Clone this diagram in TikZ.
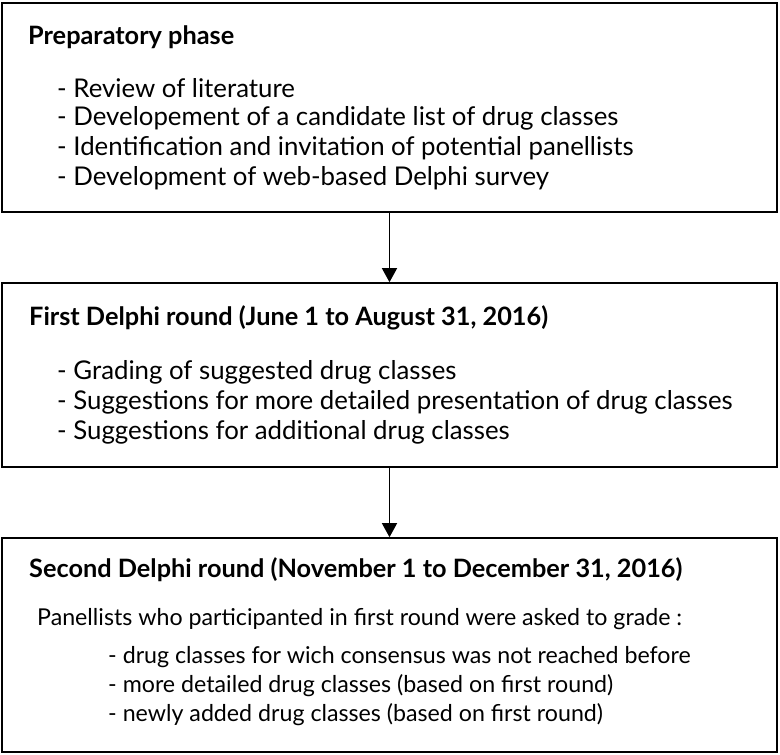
\documentclass[tikz,border=0pt]{standalone}
\usepackage{fontspec}
\setmainfont{Lato}
\usetikzlibrary{arrows.meta,positioning}

\tikzset{
  stagebox/.style={draw, line width=1.6pt, inner sep=0pt},
  title/.style={anchor=west, inner sep=0pt, font=\fontsize{25.3}{29}\selectfont\bfseries},
  item/.style={anchor=west, inner sep=0pt, font=\fontsize{25.8}{30}\selectfont},
  subitem/.style={anchor=west, inner sep=0pt, font=\fontsize{23.2}{28}\selectfont},
  arr/.style={line width=1.4pt, -{Triangle[width=15pt,length=14pt]}}
}

\begin{document}
\begin{tikzpicture}[x=1pt, y=-1pt]
        \useasboundingbox (0,0) rectangle (780,755);
        % boxes
        \node[stagebox, minimum width=775pt, minimum height=209pt] (prep) at (389.5,107.5) {};
        \node[stagebox, minimum width=775pt, minimum height=184pt] (first) at (389.5,375) {};
        \node[stagebox, minimum width=775pt, minimum height=214pt] (second) at (389.5,645) {};

        % preparatory phase
        \node[title] (t1) at (28,37) {Preparatory phase};
        \node[item] (p1) at (57,88) {- Review of literature};
        \node[item] (p2) at (57,118) {- Developement of a candidate list of drug classes};
        \node[item] (p3) at (57,148) {- Identification and invitation of potential panellists};
        \node[item] (p4) at (57,178) {- Development of web-based Delphi survey};

        % first round
        \node[title] (t2) at (29,318) {First Delphi round (June 1 to August 31, 2016)};
        \node[item] (f1) at (57,372) {- Grading of suggested drug classes};
        \node[item] (f2) at (57,402) {- Suggestions for more detailed presentation of drug classes};
        \node[item] (f3) at (57,432) {- Suggestions for additional drug classes};

        % second round
        \node[title] (t3) at (29,570) {Second Delphi round (November 1 to December 31, 2016)};
        \node[subitem] (s0) at (37,619) {Panellists who participanted in first round were asked to grade :};
        \node[subitem] (s1) at (108,657) {- drug classes for wich consensus was not reached before};
        \node[subitem] (s2) at (108,686) {- more detailed drug classes (based on first round)};
        \node[subitem] (s3) at (108,715) {- newly added drug classes (based on first round)};

        \draw[arr] (prep.south) -- (first.north);
        \draw[arr] (first.south) -- (second.north);
    \end{tikzpicture}
\end{document}
